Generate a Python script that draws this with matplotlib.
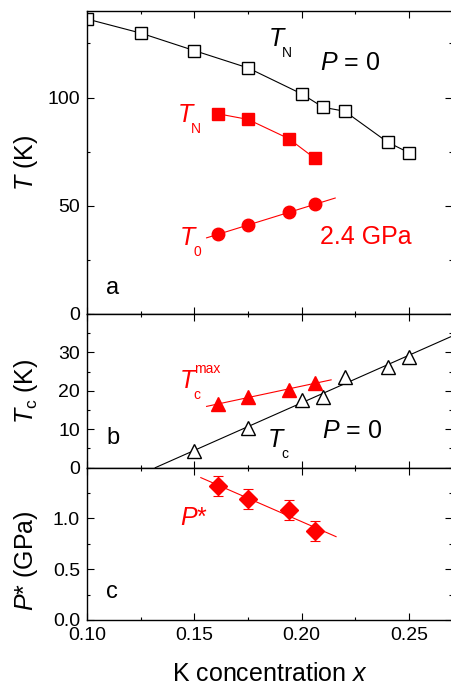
import numpy as np
import matplotlib
matplotlib.use('Agg')
import matplotlib.pyplot as plt
from matplotlib.ticker import MultipleLocator

plt.rcParams['font.family'] = ['Liberation Sans', 'DejaVu Sans']
plt.rcParams['mathtext.fontset'] = 'custom'
plt.rcParams['mathtext.rm'] = 'Liberation Sans'
plt.rcParams['mathtext.it'] = 'Liberation Sans:italic'

RED = '#ff0000'

# Panel a: Neel temperature at P = 0 (open squares)
x_tn0 = [0.100, 0.125, 0.150, 0.175, 0.200, 0.210, 0.220, 0.240, 0.250]
tn0 = [136.3, 129.8, 121.7, 113.7, 101.7, 95.5, 93.7, 79.4, 74.5]

# Panel a: at 2.4 GPa
x_p = [0.161, 0.175, 0.194, 0.206]
tn_p = [92.5, 89.9, 81.0, 72.0]
t0_p = [36.9, 41.0, 46.9, 50.7]
t0_fit_range = [0.1557, 0.2156]

# Panel b: Tc at P = 0 (open triangles)
x_tc0 = [0.150, 0.175, 0.200, 0.210, 0.220, 0.240, 0.250]
tc0 = [4.4, 10.3, 17.5, 18.4, 23.7, 26.2, 28.9]

# Panel b: Tc max under pressure
tcmax = [16.5, 18.5, 20.2, 22.1]
tcmax_fit_range = [0.1557, 0.2137]

# Panel c: P*
pstar = [1.32, 1.19, 1.08, 0.875]
pstar_err = [0.10, 0.10, 0.10, 0.10]
pstar_fit_range = [0.153, 0.216]

XMIN, XMAX = 0.10, 0.27

fig = plt.figure(figsize=(4.51, 6.87), dpi=100)
left, width = 87 / 451, 365 / 451
ax_a = fig.add_axes([left, 1 - 314 / 687, width, 303 / 687])
ax_b = fig.add_axes([left, 1 - 467.7 / 687, width, 153.7 / 687], sharex=ax_a)
ax_c = fig.add_axes([left, 1 - 620 / 687, width, 152.3 / 687], sharex=ax_a)


def style(ax):
    for s in ax.spines.values():
        s.set_linewidth(1.0)
    ax.tick_params(which='both', direction='in', top=True, right=True,
                   width=0.8, labelsize=14, pad=5)
    ax.tick_params(which='major', length=5)
    ax.tick_params(which='minor', length=2.5)
    ax.xaxis.set_major_locator(MultipleLocator(0.05))
    ax.xaxis.set_minor_locator(MultipleLocator(0.025))


def fit_line(ax, x, y, xr, color):
    k, b = np.polyfit(x, y, 1)
    xx = np.array(xr)
    ax.plot(xx, k * xx + b, color=color, lw=0.8, zorder=1)


def sub_label(ax, x, y, main, sub, color, sup=None):
    ax.text(x, y, main, style='italic', fontsize=18, color=color,
            ha='left', va='center')
    ax.annotate(sub, (x, y), xytext=(9.5, -10), textcoords='offset points',
                fontsize=10, color=color, ha='left', va='center')
    if sup is not None:
        ax.annotate(sup, (x, y), xytext=(10, 8.5), textcoords='offset points',
                    fontsize=10, color=color, ha='left', va='center')


# ---- panel a
style(ax_a)
ax_a.plot(x_tn0, tn0, color='black', lw=0.8, marker='s', ms=8.5,
          mfc='white', mec='black', mew=1.0)
ax_a.plot(x_p, tn_p, color=RED, lw=0.8, marker='s', ms=8.5, mfc=RED, mec=RED)
fit_line(ax_a, x_p, t0_p, t0_fit_range, RED)
ax_a.plot(x_p, t0_p, ls='none', marker='o', ms=9, color=RED)
ax_a.set_ylim(0, 140)
ax_a.set_yticks([0, 50, 100])
ax_a.yaxis.set_minor_locator(MultipleLocator(25))
ax_a.set_ylabel(r'$T$ (K)', fontsize=18)
sub_label(ax_a, 0.1848, 127, 'T', 'N', 'black')
ax_a.text(0.2086, 116, r'$P$ = 0', fontsize=18, ha='left', va='center')
sub_label(ax_a, 0.1424, 92, 'T', 'N', RED)
sub_label(ax_a, 0.1433, 35, 'T', '0', RED)
ax_a.text(0.2086, 35.5, '2.4 GPa', fontsize=18, color=RED, ha='left', va='center')
ax_a.text(0.1089, 12, 'a', fontsize=17, ha='left', va='center')
plt.setp(ax_a.get_xticklabels(), visible=False)

# ---- panel b
style(ax_b)
k, b = np.polyfit(x_tc0, tc0, 1)
xx = np.array([-b / k, XMAX])
ax_b.plot(xx, k * xx + b, color='black', lw=0.8, zorder=1)
ax_b.plot(x_tc0, tc0, ls='none', marker='^', ms=10, mfc='white',
          mec='black', mew=1.0)
fit_line(ax_b, x_p, tcmax, tcmax_fit_range, RED)
ax_b.plot(x_p, tcmax, ls='none', marker='^', ms=10, color=RED)
ax_b.set_ylim(0, 40)
ax_b.set_yticks([0, 10, 20, 30])
ax_b.yaxis.set_minor_locator(MultipleLocator(5))
ax_b.set_ylabel(r'$T_\mathrm{c}$ (K)', fontsize=18)
sub_label(ax_b, 0.1433, 22.6, 'T', 'c', RED, sup='max')
sub_label(ax_b, 0.1843, 7.3, 'T', 'c', 'black')
ax_b.text(0.2095, 9.5, r'$P$ = 0', fontsize=18, ha='left', va='center')
ax_b.text(0.1089, 7.8, 'b', fontsize=17, ha='left', va='center')
plt.setp(ax_b.get_xticklabels(), visible=False)

# ---- panel c
style(ax_c)
fit_line(ax_c, x_p, pstar, pstar_fit_range, RED)
ax_c.errorbar(x_p, pstar, yerr=pstar_err, ls='none', marker='D', ms=9,
              color=RED, ecolor=RED, elinewidth=0.8, capsize=3.6, capthick=0.8)
ax_c.set_ylim(0, 1.5)
ax_c.set_yticks([0.0, 0.5, 1.0])
ax_c.yaxis.set_minor_locator(MultipleLocator(0.25))
ax_c.yaxis.set_major_formatter(plt.FormatStrFormatter('%.1f'))
ax_c.set_ylabel(r'$P$* (GPa)', fontsize=18)
ax_c.text(0.1433, 1.0, r'$P$*', fontsize=18, color=RED, ha='left', va='center')
ax_c.text(0.1089, 0.28, 'c', fontsize=17, ha='left', va='center')
ax_c.set_xlim(XMIN, XMAX)
ax_c.xaxis.set_major_formatter(plt.FormatStrFormatter('%.2f'))
ax_c.set_xlabel(r'K concentration $x$', fontsize=18, labelpad=13)

ax_a.yaxis.set_label_coords(-0.13, 0.5)
ax_b.yaxis.set_label_coords(-0.13, 0.5)
ax_c.yaxis.set_label_coords(-0.13, 0.39)

fig.savefig('out.png', dpi=100)
